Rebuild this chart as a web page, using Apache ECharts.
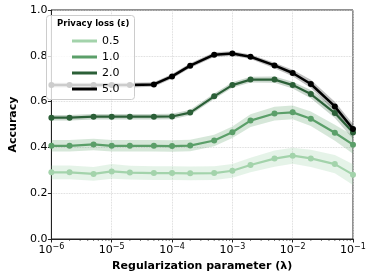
<!DOCTYPE html>
<html><head><meta charset="utf-8">
<script src="https://cdn.jsdelivr.net/npm/echarts@6/dist/echarts.min.js"></script>
<style>html,body{margin:0;padding:0;background:#fff}#c{width:374px;height:279px}</style>
</head><body><div id="c"></div>
<script>
const lambdas = [1e-6,2e-6,5e-6,1e-5,2e-5,5e-5,1e-4,2e-4,5e-4,1e-3,2e-3,5e-3,1e-2,2e-2,5e-2,1e-1];
const seriesNames = ['0.5','1.0','2.0','5.0'];
const acc05 = [0.291,0.291,0.284,0.295,0.290,0.288,0.288,0.287,0.288,0.298,0.323,0.351,0.364,0.352,0.327,0.281];
const acc10 = [0.407,0.407,0.413,0.407,0.407,0.407,0.406,0.408,0.430,0.466,0.517,0.548,0.553,0.525,0.464,0.412];
const acc20 = [0.530,0.530,0.534,0.534,0.534,0.534,0.535,0.552,0.623,0.672,0.696,0.696,0.672,0.633,0.550,0.465];
const acc50 = [0.672,0.672,0.672,0.672,0.672,0.675,0.710,0.757,0.805,0.810,0.796,0.758,0.725,0.677,0.579,0.480];
const sd05 = [0.030,0.030,0.030,0.032,0.030,0.030,0.030,0.030,0.030,0.030,0.032,0.035,0.035,0.038,0.040,0.045];
const sd10 = [0.025,0.025,0.025,0.025,0.025,0.025,0.025,0.025,0.025,0.025,0.028,0.030,0.030,0.032,0.035,0.040];
const sd20 = [0.012,0.012,0.012,0.012,0.012,0.012,0.012,0.012,0.012,0.012,0.013,0.014,0.015,0.018,0.022,0.028];
const sd50 = [0.010,0.010,0.010,0.010,0.010,0.010,0.010,0.010,0.010,0.010,0.010,0.012,0.014,0.018,0.020,0.022];
const xTickExponents = [-6,-5,-4,-3,-2,-1];
const yTicks = [0.0,0.2,0.4,0.6,0.8,1.0];
const minorTicks = [];
for (let e = -6; e < -1; e++) for (let m = 2; m <= 9; m++) minorTicks.push(m * Math.pow(10, e));

const colors = ['#a3d3ab','#5b9f69','#2b5f37','#000000'];
const bandColors = ['rgba(163,211,171,0.28)','rgba(91,159,105,0.25)','rgba(43,95,55,0.25)','rgba(0,0,0,0.25)'];
const accs = [acc05, acc10, acc20, acc50];
const sds = [sd05, sd10, sd20, sd50];

const series = [];
accs.forEach((a, i) => {
  const rows = lambdas.map((x, k) => [x, a[k] - sds[i][k], a[k] + sds[i][k]]);
  series.push({
    name: 'band_' + i, type: 'custom', silent: true, z: 1,
    data: rows,
    encode: {x: 0, y: [1, 2]},
    renderItem: (params, api) => {
      if (params.dataIndex !== 0) return null;
      const upper = rows.map(r => api.coord([r[0], r[2]]));
      const lower = rows.map(r => api.coord([r[0], r[1]])).reverse();
      return {type: 'polygon', shape: {points: upper.concat(lower)}, style: {fill: bandColors[i]}};
    }
  });
});
accs.forEach((a, i) => {
  series.push({
    name: seriesNames[i], type: 'line', symbol: 'circle', symbolSize: 6,
    color: colors[i], lineStyle: {width: i === 3 ? 2.5 : 2.2, color: colors[i]},
    itemStyle: {color: colors[i]}, z: 3 + i,
    data: lambdas.map((x, k) => [x, a[k]])
  });
});
series.push({
  name: 'minor', type: 'custom', clip: false, silent: true, z: 10,
  data: minorTicks.map(v => [v, 0]),
  renderItem: (params, api) => {
    const p = api.coord([api.value(0), 0]);
    return {type: 'line', shape: {x1: p[0], y1: p[1], x2: p[0], y2: p[1] + 2}, style: {stroke: '#222', lineWidth: 0.6}};
  }
});

const chart = echarts.init(document.getElementById('c'), null, {renderer: 'canvas'});
chart.setOption({
  animation: false,
  backgroundColor: '#fff',
  textStyle: {fontFamily: 'DejaVu Sans'},
  grid: {left: 46, right: 21, top: 10, bottom: 40, show: true, borderColor: '#222', borderWidth: 1, containLabel: false},
  xAxis: {
    type: 'log', logBase: 10, min: 1e-6, max: 1e-1,
    name: 'Regularization parameter (λ)', nameLocation: 'middle', nameGap: 20,
    nameTextStyle: {fontWeight: 'bold', fontSize: 11, color: '#000', fontFamily: 'DejaVu Sans'},
    axisLine: {lineStyle: {color: '#222', width: 1}},
    axisTick: {show: true, length: 3.5, lineStyle: {color: '#222'}},
    splitLine: {show: true, lineStyle: {color: '#cfcfcf', type: 'dotted', width: 0.8}},
    axisLabel: {
      margin: 4, color: '#000',
      formatter: v => {
        const e = Math.round(Math.log10(v));
        if (xTickExponents.indexOf(e) < 0) return '';
        return '{b|10}{s|−' + Math.abs(e) + '}';
      },
      rich: {b: {fontSize: 11, color: '#000', fontFamily: 'DejaVu Sans'}, s: {fontSize: 8, color: '#000', fontFamily: 'DejaVu Sans', padding: [0, 0, 6, 0]}}
    }
  },
  yAxis: {
    type: 'value', min: 0, max: 1, interval: 0.2,
    name: 'Accuracy', nameLocation: 'middle', nameGap: 29,
    nameTextStyle: {fontWeight: 'bold', fontSize: 11, color: '#000', fontFamily: 'DejaVu Sans'},
    axisLine: {show: true, lineStyle: {color: '#222', width: 1}},
    axisTick: {show: true, length: 3.5, lineStyle: {color: '#222'}},
    splitLine: {show: true, lineStyle: {color: '#cfcfcf', type: 'dotted', width: 0.8}},
    axisLabel: {margin: 4, color: '#000', fontSize: 11, formatter: v => {
      const t = yTicks.find(y => Math.abs(y - v) < 1e-9);
      return t === undefined ? '' : t.toFixed(1);
    }}
  },
  graphic: [
    {type: 'rect', z: 50, shape: {x: 46.5, y: 15.5, width: 88, height: 84, r: 3},
     style: {fill: 'rgba(255,255,255,0.8)', stroke: '#cccccc', lineWidth: 1}},
    {type: 'text', z: 51, left: 57, top: 19,
     style: {text: 'Privacy loss (ε)', fontSize: 8.5, fontWeight: 'bold', fill: '#000', fontFamily: 'DejaVu Sans'}}
  ],
  legend: {
    z: 60, orient: 'vertical', left: 67, top: 29.5, itemGap: 3, itemWidth: 25, itemHeight: 3,
    icon: 'rect', data: seriesNames,
    textStyle: {fontSize: 11, color: '#000', lineHeight: 13, padding: 0, fontFamily: 'DejaVu Sans'}
  },
  series: series
});
</script></body></html>
